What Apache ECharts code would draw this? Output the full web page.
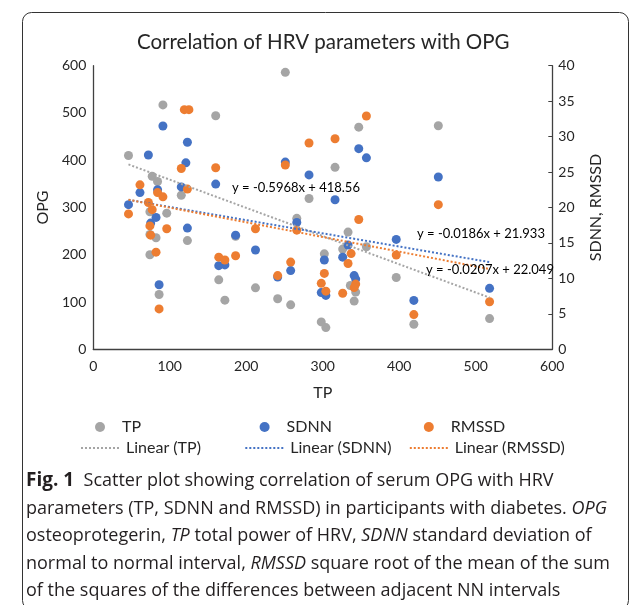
<!DOCTYPE html>
<html><head><meta charset="utf-8">
<script src="https://cdn.jsdelivr.net/npm/echarts@6/dist/echarts.min.js"></script>
<style>html,body{margin:0;padding:0;background:#fff;}#c{width:629px;height:605px;}</style>
</head><body><div id="c"></div>
<script>
// [TP, OPG]
const tpPoints = [[251,586],[91,517],[160,494],[46,410],[77,366],[84,355],[115,326],[282,319],[347,470],[451,473],[316,385],[74,291],[96,288],[74,243],[82,236],[123,230],[266,277],[186,239],[74,200],[164,147],[212,130],[241,107],[172,104],[258,94],[86,116],[333,248],[396,152],[357,217],[326,212],[302,202],[298,58],[304,46],[336,135],[343,121],[341,102],[419,53],[518,65]];
// [TP, SDNN]
const sdnnPoints = [[91,31.5],[123,29.2],[72,27.4],[121,26.3],[251,26.4],[282,24.6],[61,22.1],[84,22.5],[115,22.9],[160,23.3],[46,20.4],[347,28.3],[357,27.0],[451,24.3],[316,21.1],[82,18.6],[75,17.8],[123,17.1],[266,17.9],[186,16.1],[212,14.0],[164,11.8],[172,11.9],[258,11.1],[241,10.2],[86,9.1],[396,15.5],[333,14.7],[326,13.0],[302,12.6],[298,8.0],[304,7.6],[341,10.4],[343,9.9],[419,6.9],[518,8.6]];
// [TP, RMSSD]
const rmssdPoints = [[119,33.8],[125,33.8],[282,29.1],[251,26.0],[115,25.5],[160,25.6],[61,23.2],[84,22.1],[91,21.5],[123,22.6],[357,32.9],[316,29.7],[451,20.4],[72,20.7],[46,19.1],[77,19.7],[74,17.4],[96,17.0],[75,16.1],[266,16.8],[212,17.0],[82,13.7],[164,13.0],[172,12.6],[186,13.2],[258,12.3],[241,10.4],[86,5.7],[347,18.3],[396,13.3],[337,13.5],[333,12.1],[302,10.7],[298,9.3],[304,8.2],[343,9.2],[341,8.7],[326,7.9],[419,4.9],[518,6.7]];

const seriesNames = ['TP','SDNN','RMSSD'];
const seriesColors = ['#A5A5A5','#4472C4','#ED7D31'];
const trendSlopes = [-0.5968, -0.0186, -0.0207];
const trendIntercepts = [418.56, 21.933, 22.049];
const trendLabels = ['y = -0.5968x + 418.56','y = -0.0186x + 21.933','y = -0.0207x + 22.049'];
const xTicks = [0,600,100];
const yLeftTicks = [0,600,100];
const yRightTicks = [0,40,5];

const allPts = [tpPoints, sdnnPoints, rmssdPoints];
function trendLine(i){
  const xs = allPts[i].map(p=>p[0]);
  const lo = Math.min(...xs), hi = Math.max(...xs);
  return [[lo, trendSlopes[i]*lo+trendIntercepts[i]],[hi, trendSlopes[i]*hi+trendIntercepts[i]]];
}

const FONT = 'Lato';
const txt = '#262626';
const axisLineColor = '#404040';

const series = [];
seriesNames.forEach((n,i)=>{
  series.push({name:n, type:'scatter', yAxisIndex: i===0?0:1, data: allPts[i], symbol:'circle', symbolSize:9,
    itemStyle:{color:seriesColors[i], opacity:1}, z:2+i});
});
seriesNames.forEach((n,i)=>{
  series.push({name:'Linear ('+n+')', type:'line', yAxisIndex: i===0?0:1, data: trendLine(i), symbol:'none',
    itemStyle:{color:seriesColors[i]},
    lineStyle:{color:seriesColors[i], width:2, type:'dotted'}, z:6, silent:true});
});

const scatterLeg = [95, 259.6, 423.8];
const lineLeg = [80, 244.3, 408.8];
const legends = [];
seriesNames.forEach((n,i)=>{
  legends.push({data:[n], left:scatterLeg[i], top:419, padding:0, itemWidth:10, itemHeight:10, icon:'circle',
    textStyle:{fontFamily:FONT, fontSize:16, color:txt, padding:[0,0,0,12]}, selectedMode:false});
  legends.push({data:['Linear ('+n+')'], left:lineLeg[i], top:440, padding:0, itemWidth:40, itemHeight:10,
    itemStyle:{opacity:0},
    textStyle:{fontFamily:FONT, fontSize:16, color:txt}, selectedMode:false});
});

const capFont = '"Open Sans"';
const capSize = 18;
const capColor = '#231F20';
const captionLines = [
  '{b|Fig. 1}  Scatter plot showing correlation of serum OPG with HRV',
  'parameters (TP, SDNN and RMSSD) in participants with diabetes. {i|OPG}',
  'osteoprotegerin, {i|TP} total power of HRV, {i|SDNN} standard deviation of',
  'normal to normal interval, {i|RMSSD} square root of the mean of the sum',
  'of the squares of the differences between adjacent NN intervals'
];
const captionY = [481, 508.5, 536, 563.5, 591];

const graphics = [
  {type:'rect', shape:{x:22.5, y:12.5, width:606, height:597, r:9}, style:{fill:'none', stroke:'#333', lineWidth:1}, z:-1, silent:true}
];
const eqPos = [[232,188],[417,234],[426,270]];
trendLabels.forEach((t,i)=>{
  graphics.push({type:'text', x:eqPos[i][0], y:eqPos[i][1], z:20,
    style:{text:t, fontFamily:FONT, fontSize:13, fill:'#000', verticalAlign:'middle', align:'left'}});
});
captionLines.forEach((t,i)=>{
  graphics.push({type:'text', x:26, y:captionY[i], z:20,
    style:{text:t, fontFamily:capFont, fontSize:capSize, fill:capColor, verticalAlign:'middle', align:'left',
      rich:{b:{fontWeight:'bold', fontFamily:capFont, fontSize:capSize+1, fill:capColor},
            i:{fontStyle:'italic', fontFamily:capFont, fontSize:capSize, fill:capColor}}}});
});

const chart = echarts.init(document.getElementById('c'));
chart.setOption({
  animation:false,
  backgroundColor:'#fff',
  title:{text:'Correlation of HRV parameters with OPG', left:132, top:27,
    textStyle:{fontFamily:FONT, fontSize:20.5, fontWeight:'normal', color:txt}},
  grid:{left:93.3, right:76.7, top:65.7, bottom:255.7, containLabel:false},
  legend: legends,
  xAxis:{type:'value', min:xTicks[0], max:xTicks[1], interval:xTicks[2], name:'TP', nameLocation:'middle', nameGap:36,
    nameTextStyle:{fontFamily:FONT, fontSize:16, color:txt},
    axisLine:{show:true, lineStyle:{color:axisLineColor, width:1.3}}, axisTick:{show:false},
    axisLabel:{fontFamily:FONT, fontSize:14, color:txt, margin:10}, splitLine:{show:false}},
  yAxis:[
    {type:'value', min:yLeftTicks[0], max:yLeftTicks[1], interval:yLeftTicks[2], name:'OPG', nameLocation:'middle', nameGap:38,
      nameTextStyle:{fontFamily:FONT, fontSize:16, color:txt},
      axisLine:{show:true, lineStyle:{color:axisLineColor, width:1.3}}, axisTick:{show:false},
      axisLabel:{fontFamily:FONT, fontSize:14, color:txt, margin:7}, splitLine:{show:false}},
    {type:'value', position:'right', min:yRightTicks[0], max:yRightTicks[1], interval:yRightTicks[2], name:'SDNN, RMSSD', nameLocation:'middle', nameGap:36,
      nameTextStyle:{fontFamily:FONT, fontSize:16, color:txt},
      axisLine:{show:true, lineStyle:{color:axisLineColor, width:1.3}}, axisTick:{show:true, inside:true, length:4, lineStyle:{color:axisLineColor}},
      axisLabel:{fontFamily:FONT, fontSize:14, color:txt, margin:6}, splitLine:{show:false}}
  ],
  series: series,
  graphic: graphics
});
</script></body></html>
